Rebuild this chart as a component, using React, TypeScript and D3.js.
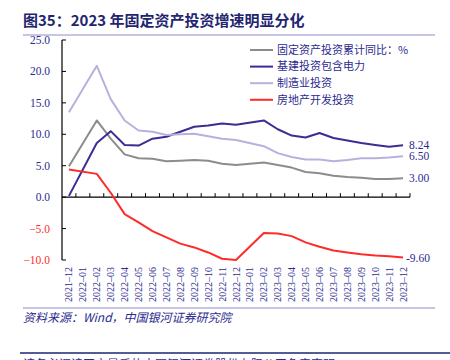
import React from "react";
import * as d3 from "d3";

/* categories (Jan values not published -> null, lines bridge the gap) */
const MONTHS = [
  "2021-12", "2022-01", "2022-02", "2022-03", "2022-04", "2022-05", "2022-06",
  "2022-07", "2022-08", "2022-09", "2022-10", "2022-11", "2022-12",
  "2023-01", "2023-02", "2023-03", "2023-04", "2023-05", "2023-06",
  "2023-07", "2023-08", "2023-09", "2023-10", "2023-11", "2023-12",
];

const TOTAL = [4.9, null, 12.2, 9.3, 6.8, 6.2, 6.1, 5.7, 5.8, 5.9, 5.8, 5.3, 5.1,
  null, 5.5, 5.1, 4.7, 4.0, 3.8, 3.4, 3.2, 3.1, 2.9, 2.9, 3.0];
const INFRA = [0.2, null, 8.6, 10.5, 8.3, 8.2, 9.3, 9.6, 10.4, 11.2, 11.4, 11.7, 11.5,
  null, 12.2, 10.8, 9.8, 9.5, 10.2, 9.4, 9.0, 8.6, 8.3, 8.0, 8.24];
const MANUF = [13.5, null, 20.9, 15.6, 12.2, 10.6, 10.4, 9.9, 10.0, 10.1, 9.7, 9.3, 9.1,
  null, 8.1, 7.0, 6.4, 6.0, 6.0, 5.7, 5.9, 6.2, 6.2, 6.3, 6.5];
const REALTY = [4.4, null, 3.7, 0.7, -2.7, -4.0, -5.4, -6.4, -7.4, -8.0, -8.8, -9.8, -10.0,
  null, -5.7, -5.8, -6.2, -7.2, -7.9, -8.5, -8.8, -9.1, -9.3, -9.4, -9.6];

const Y_TICKS = [25, 20, 15, 10, 5, 0, -5, -10];

const SERIES = [
  { name: "固定资产投资累计同比：%", values: TOTAL, color: "#8c8c8c", end: "3.00" },
  { name: "基建投资包含电力", values: INFRA, color: "#3a2d94", end: "8.24" },
  { name: "制造业投资", values: MANUF, color: "#b7b1de", end: "6.50" },
  { name: "房地产开发投资", values: REALTY, color: "#ff2b2b", end: "-9.60" },
];

const NAVY = "#2b2b8f";
const SERIF = "'Liberation Serif', 'DejaVu Serif', serif";
const CJK = "'Noto Sans CJK SC', sans-serif";

export default function App() {
  const W = 450;
  const H = 360;
  const x = d3.scaleBand<string>().domain(MONTHS).range([62, 410]);
  const y = d3.scaleLinear().domain([-10, 25]).range([260, 40]);
  const cx = (m: string) => (x(m) ?? 0) + x.bandwidth() / 2;

  const line = d3
    .line<{ m: string; v: number }>()
    .x((d) => cx(d.m))
    .y((d) => y(d.v));

  const last = MONTHS[MONTHS.length - 1];

  return (
    <svg
      width={W}
      height={H}
      style={{ position: "absolute", left: 0, top: 0, background: "#fff" }}
    >
      {/* title */}
      <text x={23} y={26} fill="#1f2570" fontFamily={CJK} fontWeight="bold" fontSize={15}>
        图35：2023 年固定资产投资增速明显分化
      </text>
      <line x1={23} x2={435} y1={35} y2={35} stroke="#8d8ad0" strokeWidth={1} />

      {/* y axis */}
      <line x1={62} x2={62} y1={y(25)} y2={y(-10)} stroke="#000" strokeWidth={1.2} />
      {Y_TICKS.map((t) => (
        <g key={t}>
          <line x1={62} x2={66} y1={y(t)} y2={y(t)} stroke="#000" />
          <text
            x={50}
            y={y(t)}
            dy="0.35em"
            textAnchor="end"
            fontFamily={SERIF}
            fontSize={11.5}
            fill={t < 0 ? "#ff2b2b" : NAVY}
          >
            {t < 0 ? "\u2212" + Math.abs(t).toFixed(1) : t.toFixed(1)}
          </text>
        </g>
      ))}

      {/* x axis at zero */}
      <line x1={62} x2={410} y1={y(0)} y2={y(0)} stroke="#000" strokeWidth={1.2} />
      {MONTHS.map((m) => (
        <line
          key={"t" + m}
          x1={(x(m) ?? 0) + x.step()}
          x2={(x(m) ?? 0) + x.step()}
          y1={y(0)}
          y2={y(0) - 4}
          stroke="#000"
        />
      ))}
      {MONTHS.map((m) => (
        <text
          key={"l" + m}
          transform={`translate(${cx(m) + 3.5},267) rotate(-90)`}
          textAnchor="end"
          fontFamily={SERIF}
          fontSize={10}
          fill={NAVY}
        >
          {m.replace("-", "\u2013")}
        </text>
      ))}

      {/* lines */}
      {SERIES.map((s) => {
        const pts = MONTHS.map((m, i) => ({ m, v: s.values[i] as number })).filter(
          (d) => d.v !== null
        );
        return (
          <path
            key={s.name}
            d={line(pts) ?? ""}
            fill="none"
            stroke={s.color}
            strokeWidth={2}
            strokeLinejoin="round"
          />
        );
      })}

      {/* end labels */}
      {SERIES.map((s) => (
        <text
          key={"e" + s.name}
          x={cx(last) + (s.end.startsWith("-") ? 3 : 6)}
          y={y(s.values[s.values.length - 1] as number)}
          dy="0.35em"
          fontFamily={SERIF}
          fontSize={11.5}
          fill={NAVY}
        >
          {s.end}
        </text>
      ))}

      {/* legend */}
      {SERIES.map((s, i) => (
        <g key={"g" + s.name} transform={`translate(250,${50 + i * 16.6})`}>
          <line x1={0} x2={23} y1={0} y2={0} stroke={s.color} strokeWidth={2} />
          <text x={27} y={0} dy="0.35em" fontFamily={CJK} fontSize={11} fill={NAVY}>
            {s.name}
          </text>
        </g>
      ))}

      {/* footer */}
      <line x1={23} x2={435} y1={308} y2={308} stroke="#8d8ad0" strokeWidth={1} />
      <text x={23} y={322} fontFamily={CJK} fontStyle="italic" fontSize={12} fill={NAVY}>
        资料来源：Wind，中国银河证券研究院
      </text>
      <line x1={20} x2={450} y1={353} y2={353} stroke="#1f2570" strokeWidth={1.5} />
      <text x={23} y={369} fontFamily={CJK} fontSize={12} fill={NAVY}>
        请务必阅读正文最后的中国银河证券股份有限公司免责声明
      </text>
    </svg>
  );
}
